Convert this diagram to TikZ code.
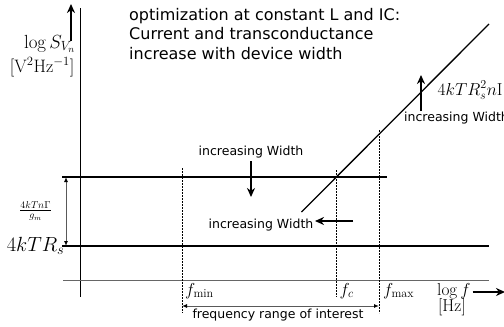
\RequirePackage{fix-cm}
\documentclass[tikz,border=0pt]{standalone}
\usepackage{fontspec}
\setsansfont{DejaVu Sans}
\usetikzlibrary{arrows.meta}
\begin{document}
\begin{tikzpicture}[x=1pt,y=-1pt,
  level/.style={line width=1.3pt},
  axisline/.style={line width=0.8pt},
  guide/.style={line width=0.8pt, dash pattern=on 1.6pt off 1.4pt},
  hint/.style={line width=1.7pt, -{Stealth[length=9pt,width=8pt]}},
  span/.style={line width=1pt, gray!70!black, {Latex[length=5pt,width=4pt,black]}-{Latex[length=5pt,width=4pt,black]}},
  small/.style={font=\sffamily\fontsize{12.5}{15}\selectfont, inner sep=0pt},
  mlab/.style={font=\fontsize{17.3}{21}\selectfont, inner sep=0pt}]
\useasboundingbox (0,0) rectangle (504,327);
\clip (0,0) rectangle (504,327);

% axes
\coordinate (ytop) at (80,8);
\coordinate (ybot) at (80,297);
\draw[axisline] (ytop) -- (ybot);
\coordinate (xl) at (63,280);
\coordinate (xr) at (489,280);
\draw[axisline, gray!80!black] (xl) -- (xr);

% arrow beside the vertical axis label
\coordinate (ya0) at (71,41);
\coordinate (ya1) at (71,4);
\draw[hint] (ya0) -- (ya1);
\node[mlab, font=\fontsize{19}{23}\selectfont, anchor=base east] (ylab) at (75.5,48) {$\log S_{V_n}$};
\node[mlab, font=\fontsize{18}{22}\selectfont, anchor=base east] (yunit) at (74.5,72) {$[\mathrm{V^2Hz^{-1}}]$};

% arrow beside the horizontal axis label
\node[mlab, anchor=base west] (xlab) at (437,295) {$\log f$};
\node[mlab, anchor=base] (xunit) at (452,311) {$[\mathrm{Hz}]$};
\coordinate (xa1) at (505,292);
\draw[hint] (xlab.east |- xa1) ++(2,0) coordinate (xa0) -- (xa1);

% noise levels
\coordinate (thl) at (62,177);
\coordinate (thr) at (387,177);
\draw[level] (thl) -- (thr);
\coordinate (rsl) at (62,246);
\coordinate (rsr) at (489,246);
\draw[level] (rsl) -- (rsr);

% rising high-frequency asymptote
\coordinate (dg0) at (301.5,212);
\coordinate (dg1) at (489,24);
\draw[line width=1.3pt] (dg0) -- (dg1);

% labels of the levels
\node[mlab, font=\fontsize{20.5}{24}\selectfont, anchor=base east] (rslab) at (64.5,251.5) {$4kTR_s$};
\node[font=\fontsize{14.4}{17}\selectfont, inner sep=0pt] (thlab) at (35.5,211) {$\frac{4kTn\Gamma}{g_m}$};
\coordinate (sp0) at (66,177);
\coordinate (sp1) at (66,246);
\draw[span] (sp0) -- (sp1);
\node[mlab, anchor=base west] (hflab) at (437.5,95) {$4kTR_s^2n\mathrm{I}$};

% frequency markers
\coordinate (fmint) at (182,168);
\coordinate (fminb) at (182,313);
\draw[guide] (fmint) -- (fminb);
\coordinate (fct) at (336,170);
\coordinate (fcb) at (336,297);
\draw[guide] (fct) -- (fcb);
\coordinate (fmaxt) at (379,130);
\coordinate (fmaxb) at (379,313);
\draw[guide] (fmaxt) -- (fmaxb);
\node[mlab, anchor=base west] (fminlab) at (185,295) {$f_{\min}$};
\node[mlab, anchor=base west] (fclab) at (339.5,295) {$f_c$};
\node[mlab, anchor=base west] (fmaxlab) at (383,295) {$f_{\max}$};

% frequency range of interest
\coordinate (r0) at (182,306);
\coordinate (r1) at (379,306);
\draw[span] (r0) -- (r1);
\node[small, anchor=base] (rangelab) at (278,318) {frequency range of interest};

% width trends
\node[small, anchor=base] (w1) at (251,155.5) {increasing Width};
\coordinate (w1a) at (251,161);
\coordinate (w1b) at (251,197);
\draw[hint] (w1a) -- (w1b);

\node[small, anchor=base] (w2) at (261,228.5) {increasing Width};
\coordinate (w2a) at (353,221);
\coordinate (w2b) at (315,221);
\draw[hint] (w2a) -- (w2b);

\node[small, anchor=base west] (w3) at (404,121.5) {increasing Width};
\coordinate (w3a) at (421,111);
\coordinate (w3b) at (421,75);
\draw[hint] (w3a) -- (w3b);

% title
\node[anchor=north west, align=left, inner sep=0pt,
      font=\sffamily\fontsize{16}{19.5}\selectfont] (title) at (129,8)
  {optimization at constant L and IC:\\Current and transconductance\\increase with device width};
\end{tikzpicture}
\end{document}
